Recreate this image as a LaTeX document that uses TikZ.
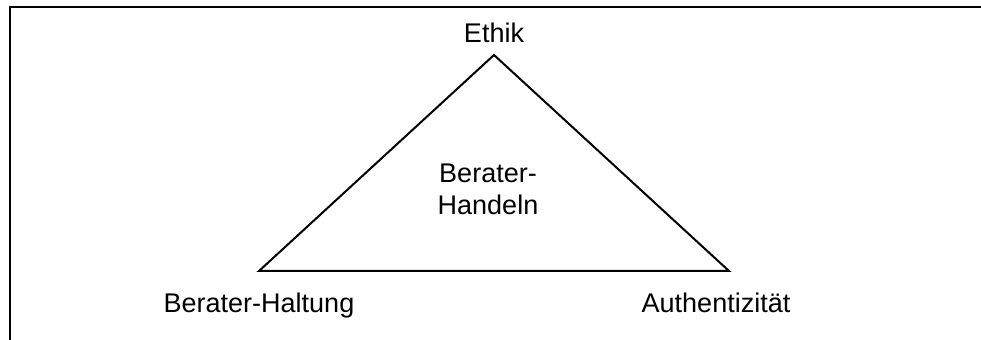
\documentclass[tikz,border=0pt]{standalone}
\usepackage{fontspec}
\setmainfont{Liberation Sans}
\usetikzlibrary{positioning}
\tikzset{
  term/.style={font=\fontsize{13.5}{16}\selectfont, inner sep=0pt, text centered},
  seite/.style={line width=1pt, line join=miter},
  rahmen/.style={line width=0.8pt}
}

\begin{document}
\begin{tikzpicture}[x=0.5pt, y=-0.5pt, node distance=6pt]
        \useasboundingbox (0,0) rectangle (981,340);

        % Rahmen (nur oben und links)
        \draw [rahmen] (10,340) -- (10,7) -- (981,7);

        % Ecken des Dreiecks
        \coordinate (spitze) at (494,55);
        \coordinate (links) at (259,271);
        \coordinate (rechts) at (729,271);

        \node (ethik) [term, above=6pt of spitze] {Ethik};
        \node (haltung) [term, below=11pt of links] {Berater-Haltung};
        \node (authentizitaet) [term, below=11pt of rechts, xshift=-6.5pt] {Authentizität};
        \node (handeln) [term, align=center] at (488,189) {Berater-\\Handeln};

        \draw [seite] (spitze) -- (rechts) -- (links) -- cycle;

    \end{tikzpicture}
\end{document}
